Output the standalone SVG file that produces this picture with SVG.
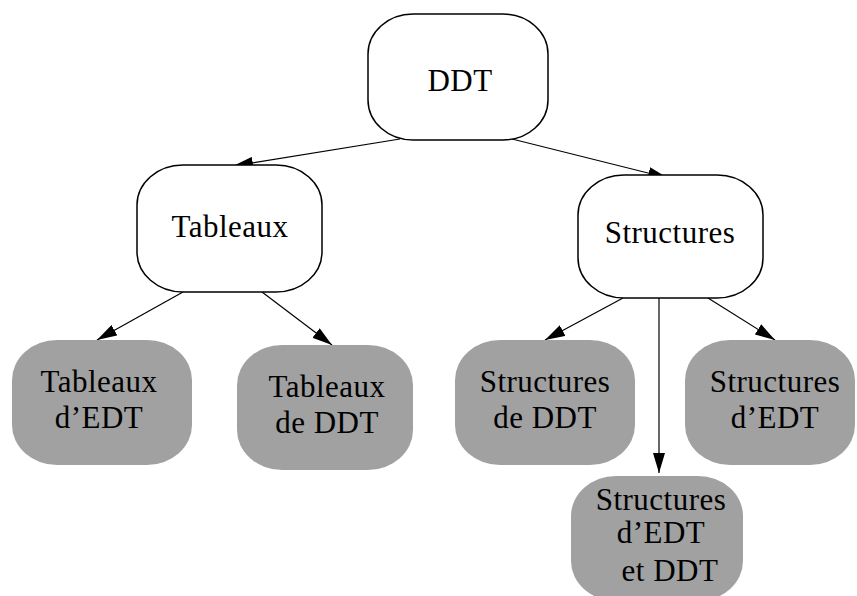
<svg xmlns="http://www.w3.org/2000/svg" width="857" height="596" viewBox="0 0 857 596">
<defs>
<style>
.w{fill:#fff;stroke:#000;stroke-width:1.5}
.g{fill:#a1a1a1;stroke:none}
.t{font-family:"Liberation Serif","Times New Roman",serif;font-size:31px;letter-spacing:0.5px;fill:#000;text-anchor:middle}
.c{stroke:#000;stroke-width:1.2;fill:none;marker-end:url(#ah)}
</style>
<marker id="ah" viewBox="0 0 20 12" refX="20" refY="6" markerWidth="20" markerHeight="12" markerUnits="userSpaceOnUse" orient="auto">
<path d="M0,0 L20,6 L0,12 Z" fill="#000"/>
</marker>
</defs>
<rect width="857" height="596" fill="#fff"/>
<g id="connectors">
<line class="c" x1="400" y1="139" x2="233" y2="166"/>
<line class="c" x1="512" y1="139" x2="668" y2="178"/>
<line class="c" x1="183" y1="292" x2="97" y2="340"/>
<line class="c" x1="262" y1="292" x2="332" y2="345"/>
<line class="c" x1="623" y1="298" x2="545" y2="340"/>
<line class="c" x1="659" y1="298" x2="659" y2="473"/>
<line class="c" x1="708" y1="298" x2="775" y2="340"/>
</g>
<g id="n_ddt">
<rect class="w" x="368" y="14" width="180" height="126" rx="45" ry="40"/>
<text class="t" x="460" y="91">DDT</text>
</g>
<g id="n_tableaux">
<rect class="w" x="137" y="165" width="185" height="127" rx="46" ry="40"/>
<text class="t" x="230" y="237">Tableaux</text>
</g>
<g id="n_structures">
<rect class="w" x="578" y="175" width="185" height="123" rx="46" ry="40"/>
<text class="t" x="670" y="243">Structures</text>
</g>
<g id="n_tab_edt">
<rect class="g" x="12" y="340" width="180" height="125" rx="45" ry="40"/>
<text class="t" x="99" y="392">Tableaux</text>
<text class="t" x="99" y="428">d’EDT</text>
</g>
<g id="n_tab_ddt">
<rect class="g" x="237" y="345" width="176" height="125" rx="45" ry="40"/>
<text class="t" x="327" y="397">Tableaux</text>
<text class="t" x="327" y="433">de DDT</text>
</g>
<g id="n_str_ddt">
<rect class="g" x="455" y="340" width="180" height="125" rx="45" ry="40"/>
<text class="t" x="545" y="392">Structures</text>
<text class="t" x="545" y="428">de DDT</text>
</g>
<g id="n_str_edt">
<rect class="g" x="685" y="340" width="170" height="125" rx="45" ry="40"/>
<text class="t" x="775" y="392">Structures</text>
<text class="t" x="775" y="428">d’EDT</text>
</g>
<g id="n_str_edt_ddt">
<rect class="g" x="571" y="476" width="172" height="125" rx="45" ry="40"/>
<text class="t" x="661" y="510">Structures</text>
<text class="t" x="661" y="543">d’EDT</text>
<text class="t" x="670" y="581">et DDT</text>
</g>
</svg>
